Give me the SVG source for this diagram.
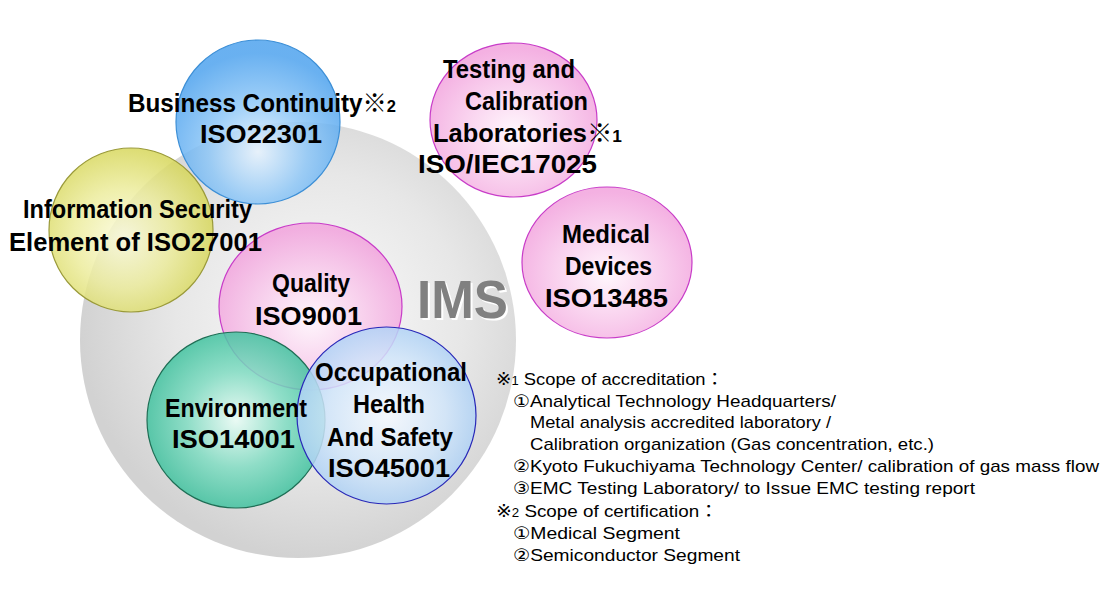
<svg xmlns="http://www.w3.org/2000/svg" width="1110" height="589" viewBox="0 0 1110 589">
<defs>
<radialGradient id="gGray" cx="0.55" cy="0.45" r="0.55">
<stop offset="0" stop-color="#fbfbfb"/><stop offset="0.6" stop-color="#e7e7e7"/><stop offset="1" stop-color="#d2d2d2"/>
</radialGradient>
<radialGradient id="gBlue" cx="0.5" cy="0.68" r="0.6">
<stop offset="0" stop-color="#e8f4ff"/><stop offset="0.5" stop-color="#8ec7f7"/><stop offset="1" stop-color="#4fa3ee"/>
</radialGradient>
<radialGradient id="gYellow" cx="0.45" cy="0.55" r="0.55">
<stop offset="0" stop-color="#fbfbdc"/><stop offset="0.55" stop-color="#ecec9c"/><stop offset="1" stop-color="#d7d75c"/>
</radialGradient>
<radialGradient id="gPink" cx="0.5" cy="0.58" r="0.55">
<stop offset="0" stop-color="#fff5fc"/><stop offset="0.55" stop-color="#f8c9eb"/><stop offset="1" stop-color="#f2a3dd"/>
</radialGradient>
<radialGradient id="gGreen" cx="0.5" cy="0.5" r="0.55">
<stop offset="0" stop-color="#eafdf6"/><stop offset="0.5" stop-color="#80dcc2"/><stop offset="1" stop-color="#34bd98"/>
</radialGradient>
<radialGradient id="gLBlue" cx="0.5" cy="0.5" r="0.55">
<stop offset="0" stop-color="#f6faff"/><stop offset="0.6" stop-color="#d0e5fa"/><stop offset="1" stop-color="#a7cdf4"/>
</radialGradient>
<style>
.c{fill-opacity:0.85;stroke-width:1.2}
.lb{font-family:"Liberation Sans","Noto Sans CJK JP",sans-serif;font-weight:bold;font-size:25px;fill:#000}
.sup{font-size:17px}
.nt{font-family:"Liberation Sans","DejaVu Sans","Noto Sans CJK JP",sans-serif;font-size:17px;fill:#000}
.ns{font-size:12px}
.ims{font-family:"Liberation Sans",sans-serif;font-weight:bold;font-size:54px}
</style>
</defs>
<rect width="1110" height="589" fill="#ffffff"/>

<g id="ims">
<circle cx="298" cy="340" r="218" fill="url(#gGray)"/>
<text class="ims" x="419" y="320" fill="#ffffff" textLength="91" lengthAdjust="spacingAndGlyphs">IMS</text>
<text class="ims" x="417" y="318" fill="#808080" textLength="91" lengthAdjust="spacingAndGlyphs">IMS</text>
</g>

<g id="quality">
<ellipse class="c" cx="310.5" cy="306.5" rx="91.5" ry="83.5" fill="url(#gPink)" stroke="#c83cc8"/>
</g>
<g id="business-continuity">
<circle class="c" cx="258" cy="122" r="82" fill="url(#gBlue)" stroke="#3d8fd6"/>
</g>
<g id="information-security">
<circle class="c" cx="131" cy="230" r="82" fill="url(#gYellow)" stroke="#9a9a3a"/>
</g>
<g id="environment">
<ellipse class="c" cx="236" cy="420" rx="89" ry="88" fill="url(#gGreen)" stroke="#1f6e55"/>
</g>
<g id="ohs">
<ellipse class="c" cx="386.5" cy="415.5" rx="89.5" ry="88.5" fill="url(#gLBlue)" stroke="#2828b8"/>
</g>
<g id="testing-calibration">
<ellipse class="c" cx="513.5" cy="120" rx="83.5" ry="77" fill="url(#gPink)" stroke="#c83cc8"/>
</g>
<g id="medical-devices">
<ellipse class="c" cx="607" cy="262.5" rx="85" ry="75.5" fill="url(#gPink)" stroke="#c83cc8"/>
</g>

<g id="labels">
<g id="label-business-continuity">
<text class="lb" x="128" y="112" textLength="268" lengthAdjust="spacingAndGlyphs">Business Continuity<tspan>※</tspan><tspan class="sup">2</tspan></text>
<text class="lb" x="200" y="143" textLength="122" lengthAdjust="spacingAndGlyphs">ISO22301</text>
</g>
<g id="label-information-security">
<text class="lb" x="23" y="218" textLength="229" lengthAdjust="spacingAndGlyphs">Information Security</text>
<text class="lb" x="9" y="251" textLength="253" lengthAdjust="spacingAndGlyphs">Element of ISO27001</text>
</g>
<g id="label-quality">
<text class="lb" x="272" y="292" textLength="78" lengthAdjust="spacingAndGlyphs">Quality</text>
<text class="lb" x="255" y="325" textLength="107" lengthAdjust="spacingAndGlyphs">ISO9001</text>
</g>
<g id="label-testing">
<text class="lb" x="443" y="78" textLength="132" lengthAdjust="spacingAndGlyphs">Testing and</text>
<text class="lb" x="465" y="110" textLength="123" lengthAdjust="spacingAndGlyphs">Calibration</text>
<text class="lb" x="433" y="142" textLength="189" lengthAdjust="spacingAndGlyphs">Laboratories<tspan>※</tspan><tspan class="sup">1</tspan></text>
<text class="lb" x="418" y="173" textLength="179" lengthAdjust="spacingAndGlyphs">ISO/IEC17025</text>
</g>
<g id="label-medical">
<text class="lb" x="562" y="243" textLength="88" lengthAdjust="spacingAndGlyphs">Medical</text>
<text class="lb" x="565" y="275" textLength="87" lengthAdjust="spacingAndGlyphs">Devices</text>
<text class="lb" x="545" y="307" textLength="123" lengthAdjust="spacingAndGlyphs">ISO13485</text>
</g>
<g id="label-environment">
<text class="lb" x="165" y="417" textLength="142" lengthAdjust="spacingAndGlyphs">Environment</text>
<text class="lb" x="172" y="448" textLength="123" lengthAdjust="spacingAndGlyphs">ISO14001</text>
</g>
<g id="label-ohs">
<text class="lb" x="315" y="381" textLength="152" lengthAdjust="spacingAndGlyphs">Occupational</text>
<text class="lb" x="353" y="413" textLength="72" lengthAdjust="spacingAndGlyphs">Health</text>
<text class="lb" x="327" y="446" textLength="126" lengthAdjust="spacingAndGlyphs">And Safety</text>
<text class="lb" x="328" y="477" textLength="122" lengthAdjust="spacingAndGlyphs">ISO45001</text>
</g>
</g>

<g id="notes">
<text class="nt" x="496" y="385" textLength="228" lengthAdjust="spacingAndGlyphs">※<tspan class="ns">1</tspan> Scope of accreditation：</text>
<text class="nt" x="513" y="407" textLength="323" lengthAdjust="spacingAndGlyphs">①Analytical Technology Headquarters/</text>
<text class="nt" x="530" y="428" textLength="301" lengthAdjust="spacingAndGlyphs">Metal analysis accredited laboratory /</text>
<text class="nt" x="530" y="450" textLength="404" lengthAdjust="spacingAndGlyphs">Calibration organization (Gas concentration, etc.)</text>
<text class="nt" x="513" y="472" textLength="586" lengthAdjust="spacingAndGlyphs">②Kyoto Fukuchiyama Technology Center/ calibration of gas mass flow</text>
<text class="nt" x="513" y="494" textLength="462" lengthAdjust="spacingAndGlyphs">③EMC Testing Laboratory/ to Issue EMC testing report</text>
<text class="nt" x="496" y="517" textLength="222" lengthAdjust="spacingAndGlyphs">※<tspan class="ns">2</tspan> Scope of certification：</text>
<text class="nt" x="513" y="539" textLength="167" lengthAdjust="spacingAndGlyphs">①Medical Segment</text>
<text class="nt" x="513" y="561" textLength="227" lengthAdjust="spacingAndGlyphs">②Semiconductor Segment</text>
</g>
</svg>
